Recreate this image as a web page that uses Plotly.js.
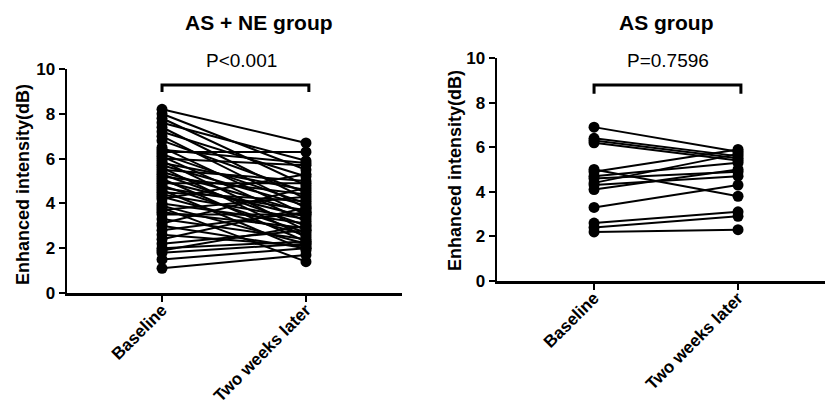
<!DOCTYPE html>
<html>
<head>
<meta charset="utf-8">
<script src="https://cdn.plot.ly/plotly-3.0.1.min.js"></script>
<style>html,body{margin:0;padding:0;background:#fff;}#chart{width:825px;height:405px;}</style>
</head>
<body>
<div id="chart"></div>
<script>
// Categories / tick labels
const timepoints = ["Baseline", "Two weeks later"];
const yTicks = [0, 2, 4, 6, 8, 10];

// AS + NE group (paired values)
const asneBaseline = [8.2, 8.0, 7.8, 7.6, 7.4, 7.2, 7.0, 6.8, 6.5, 6.3, 6.2, 6.1, 6.0, 5.9, 5.8, 5.7, 5.6, 5.5, 5.4, 5.3, 5.2, 5.1, 5.0, 4.9, 4.8, 4.7, 4.6, 4.5, 4.4, 4.3, 4.2, 4.0, 3.9, 3.8, 3.7, 3.6, 3.5, 3.3, 3.1, 3.0, 2.8, 2.6, 2.4, 2.2, 2.0, 1.9, 1.8, 1.5, 1.1, 6.4];
const asneLater    = [6.7, 5.5, 4.8, 5.9, 4.2, 5.2, 3.8, 4.5, 3.5, 6.3, 4.0, 3.2, 5.7, 2.8, 4.6, 3.9, 2.5, 5.0, 3.6, 3.0, 4.4, 2.3, 3.4, 4.9, 2.7, 3.7, 1.9, 4.1, 3.3, 2.6, 5.3, 3.1, 2.2, 1.4, 4.3, 2.9, 3.5, 2.4, 4.7, 2.0, 3.6, 2.1, 3.8, 2.8, 2.3, 3.0, 2.2, 2.0, 1.7, 5.8];

// AS group (paired values)
const asBaseline = [6.9, 6.4, 6.3, 6.2, 5.0, 4.9, 4.7, 4.6, 4.4, 4.3, 4.1, 3.3, 2.6, 2.4, 2.2];
const asLater    = [5.8, 5.6, 5.5, 5.4, 3.8, 5.9, 5.3, 4.9, 5.7, 4.7, 5.0, 4.3, 3.1, 2.9, 2.3];

const titles = ["AS + NE group", "AS group"];
const pLabels = ["P<0.001", "P=0.7596"];
const yTitle = "Enhanced intensity(dB)";

const FONT = "Arial, 'Liberation Sans', sans-serif";
const traces = [];
function addPairs(base, later, xa, ya) {
  for (let i = 0; i < base.length; i++) {
    traces.push({
      x: [0, 1], y: [base[i], later[i]],
      xaxis: xa, yaxis: ya,
      mode: "lines+markers", type: "scatter",
      line: {color: "#000", width: 2},
      marker: {color: "#000", size: 11},
      showlegend: false, hoverinfo: "skip", cliponaxis: false
    });
  }
}
addPairs(asneBaseline, asneLater, "x", "y");
addPairs(asBaseline, asLater, "x2", "y2");

const xCommon = {
  tickvals: [0, 1], ticktext: timepoints, tickangle: -45,
  showgrid: false, zeroline: false, showline: true, linecolor: "#000", linewidth: 2.5,
  ticks: "outside", ticklen: 6, tickwidth: 2, tickcolor: "#000", ticklabelstandoff: -8,
  tickfont: {family: FONT, size: 17, color: "#000", weight: "bold"}, fixedrange: true
};
const yCommon = {
  range: [0, 10], tickvals: yTicks,
  showgrid: false, zeroline: false, showline: true, linecolor: "#000", linewidth: 2.5,
  ticks: "outside", ticklen: 6, tickwidth: 2, tickcolor: "#000",
  tickfont: {family: FONT, size: 17, color: "#000", weight: "bold"}, fixedrange: true
};

const layout = {
  width: 825, height: 405,
  margin: {l: 0, r: 0, t: 0, b: 0},
  paper_bgcolor: "#fff", plot_bgcolor: "#fff",
  showlegend: false,
  xaxis: Object.assign({}, xCommon, {domain: [67/825, 402/825], range: [-0.66, 1.667], anchor: "y"}),
  yaxis: Object.assign({}, yCommon, {domain: [(405-293)/405, (405-69)/405], anchor: "x"}),
  xaxis2: Object.assign({}, xCommon, {domain: [497/825, 1], range: [-0.674, 1.604], anchor: "y2"}),
  yaxis2: Object.assign({}, yCommon, {domain: [(405-281)/405, (405-58)/405], anchor: "x2"}),
  shapes: [
    {type: "path", xref: "x", yref: "y", path: "M0,8.97 L0,9.29 L1.02,9.29 L1.02,8.97", line: {color: "#000", width: 3}},
    {type: "path", xref: "x2", yref: "y2", path: "M0,8.4 L0,8.79 L1.02,8.79 L1.02,8.4", line: {color: "#000", width: 3}}
  ],
  annotations: [
    {text: titles[0], xref: "paper", yref: "paper", x: 259/825, y: 1-22/405, showarrow: false, xanchor: "center", yanchor: "middle", font: {family: FONT, size: 21, color: "#000", weight: "bold"}},
    {text: titles[1], xref: "paper", yref: "paper", x: 666/825, y: 1-22/405, showarrow: false, xanchor: "center", yanchor: "middle", font: {family: FONT, size: 21, color: "#000", weight: "bold"}},
    {text: pLabels[0], xref: "paper", yref: "paper", x: 241/825, y: 1-60/405, showarrow: false, xanchor: "center", yanchor: "middle", font: {family: FONT, size: 19, color: "#000"}},
    {text: pLabels[1], xref: "paper", yref: "paper", x: 668/825, y: 1-60/405, showarrow: false, xanchor: "center", yanchor: "middle", font: {family: FONT, size: 19, color: "#000"}},
    {text: yTitle, xref: "paper", yref: "paper", x: 23/825, y: 1-185/405, showarrow: false, textangle: -90, xanchor: "center", yanchor: "middle", font: {family: FONT, size: 18, color: "#000", weight: "bold"}},
    {text: yTitle, xref: "paper", yref: "paper", x: 455/825, y: 1-171/405, showarrow: false, textangle: -90, xanchor: "center", yanchor: "middle", font: {family: FONT, size: 18, color: "#000", weight: "bold"}}
  ]
};

Plotly.newPlot("chart", traces, layout, {displayModeBar: false, staticPlot: true});
</script>
</body>
</html>
